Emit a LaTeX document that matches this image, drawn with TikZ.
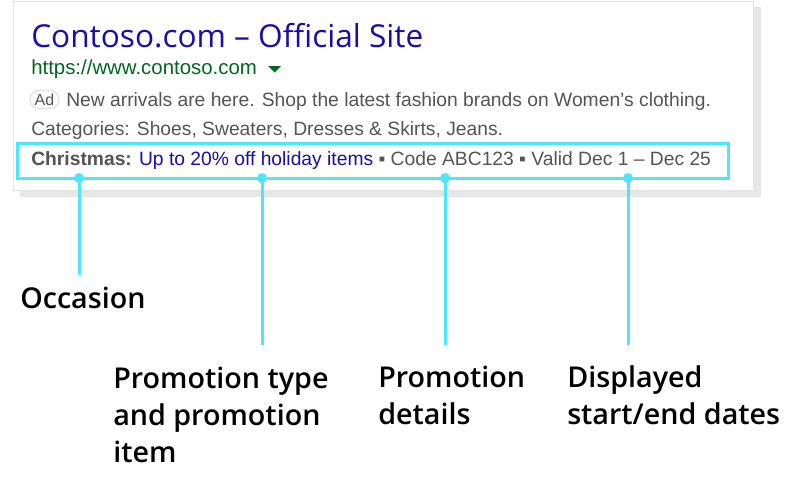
\documentclass[tikz,border=0pt]{standalone}
\usepackage{fontspec}
\setmainfont{Liberation Sans}
\newfontfamily\titlefont{Open Sans}
\IfFontExistsTF{Open Sans SemiBold}{\newfontfamily\labfont{Open Sans SemiBold}\def\labweight{}}{%
  \IfFontExistsTF{Open Sans Semibold}{\newfontfamily\labfont{Open Sans Semibold}\def\labweight{}}{%
    \IfFontExistsTF{OpenSans-Semibold}{\newfontfamily\labfont{OpenSans-Semibold}\def\labweight{}}{%
      \newfontfamily\labfont{Open Sans}\def\labweight{\bfseries}}}}
\definecolor{gblue}{HTML}{1A0DAB}
\definecolor{ggreen}{HTML}{006621}
\definecolor{ggray}{HTML}{545454}
\definecolor{hcyan}{HTML}{4DE6FF}
\definecolor{cardline}{HTML}{E2E2E2}
\definecolor{shadow}{HTML}{E6E6E6}
\begin{document}
\begin{tikzpicture}[x=0.75pt,y=-0.75pt,
  bodytext/.style={anchor=base west,inner sep=0pt,font=\fontsize{14.45}{17}\selectfont,text=ggray},
  label/.style={anchor=base west,inner sep=0pt,align=left,font=\labfont\labweight\fontsize{21.5}{27.75}\selectfont,text=black},
  hl/.style={draw=hcyan,line width=2.25pt},
  dot/.style={circle,fill=hcyan,inner sep=0pt,minimum size=7.5pt}]
\useasboundingbox (0,0) rectangle (800,489);
% card and shadow
\fill[shadow] (20,7) rectangle (761,197);
\filldraw[fill=white,draw=cardline,line width=0.75pt] (13,1) rectangle (753,190);
% ad text
\node[anchor=base west,inner sep=0pt,font=\titlefont\fontsize{23.7}{28}\selectfont,text=gblue] (title) at (31,47) {Contoso.com – Official Site};
\node[bodytext,text=ggreen,font=\fontsize{15.3}{17}\selectfont] (url) at (31,74.5) {https://www.contoso.com};
\fill[ggreen] (268,66) -- (281,66) -- (274.5,72.5) -- cycle;
\node[draw=cardline,line width=0.9pt,rounded corners=6.5pt,minimum width=21.75pt,minimum height=13.5pt,inner sep=0pt,text=ggray,font=\fontsize{12}{14}\selectfont] (ad) at (44.5,99.5) {Ad};
\node[bodytext] (desc) at (66,106) {New arrivals are here. Shop the latest fashion brands on Women’s clothing.};
\node[bodytext] (cats) at (31,135) {Categories: Shoes, Sweaters, Dresses \& Skirts, Jeans.};
\node[bodytext] (promo) at (31,165.5) {\textbf{Christmas:} \textcolor{gblue}{Up to 20\% off holiday items} ▪ Code ABC123 ▪ Valid Dec 1 – Dec 25};
% highlight box
\draw[hl] (17,143) rectangle (728,178);
\node[dot] (d1) at (79,178) {};
\node[dot] (d2) at (262,178) {};
\node[dot] (d3) at (445,178) {};
\node[dot] (d4) at (628,178) {};
\coordinate (e1) at (79,275);
\coordinate (e2) at (262,345);
\coordinate (e3) at (445,345);
\coordinate (e4) at (628,345);
\draw[hl] (d1.center) -- (e1);
\draw[hl] (d2.center) -- (e2);
\draw[hl] (d3.center) -- (e3);
\draw[hl] (d4.center) -- (e4);
% labels
\node[label] (occ) at (20,308) {Occasion};
\node[label] (ptype) at (113,462) {Promotion type\\and promotion\\item};
\node[label] (pdet) at (378,424) {Promotion\\details};
\node[label] (dates) at (567,424) {Displayed\\start/end dates};
\end{tikzpicture}
\end{document}
